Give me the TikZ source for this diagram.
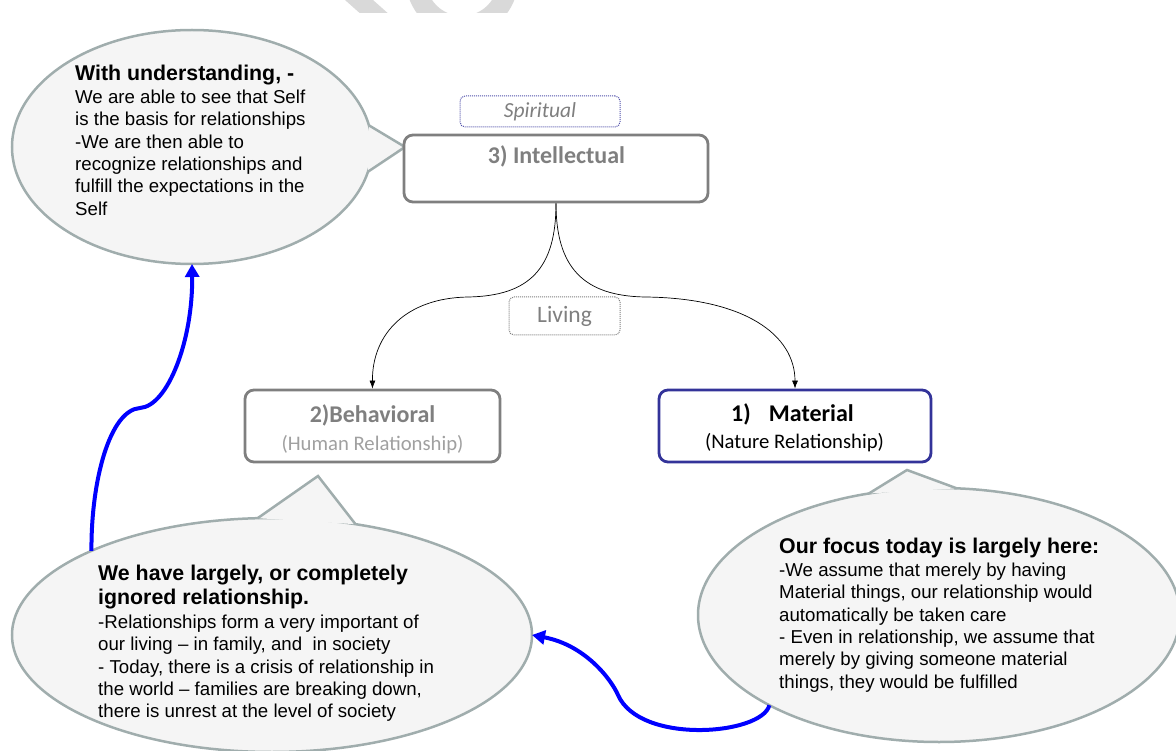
\documentclass[tikz,border=0pt]{standalone}
\usepackage{fontspec}
\setmainfont{Liberation Sans}
\newfontfamily\calibrifont{Carlito}
\usetikzlibrary{shapes.geometric,arrows.meta}

\definecolor{callfill}{RGB}{245,245,245}
\definecolor{callline}{RGB}{160,173,173}
\definecolor{boxgray}{RGB}{127,127,127}
\definecolor{softgray}{RGB}{160,160,160}
\definecolor{matblue}{RGB}{51,51,153}
\definecolor{dotblue}{RGB}{80,80,170}
\definecolor{wmgray}{RGB}{217,217,217}
\definecolor{flowblue}{RGB}{0,0,255}

\newcommand{\bodysize}{\fontsize{18.67pt}{22.4pt}\selectfont}
\newcommand{\headsize}{\fontsize{21.33pt}{25.6pt}\selectfont\bfseries}

\begin{document}
\begin{tikzpicture}[x=1pt,y=-1pt,
  callout/.style={ellipse, fill=callfill, draw=callline, line width=2.5pt, inner sep=0pt, outer sep=0pt},
  tail/.style={draw=callline, line width=2.5pt, line join=miter},
  boxnode/.style={rectangle, rounded corners=9pt, line width=2.8pt, fill=white, inner sep=0pt},
  tag/.style={rectangle, rounded corners=5pt, line width=1pt, densely dotted, inner sep=0pt},
  link/.style={draw=black, line width=0.7pt, -{Latex[length=8pt,width=6pt]}},
  flow/.style={draw=flowblue, line width=4pt, -{Triangle[length=13pt,width=14pt]}},
  calltext/.style={anchor=north west, inner sep=0pt, align=left},
  boxtitle/.style={anchor=base, inner sep=0pt, font=\calibrifont\fontsize{24pt}{28pt}\selectfont\bfseries},
  boxsub/.style={anchor=base, inner sep=0pt, font=\calibrifont\fontsize{20.7pt}{25pt}\selectfont}
]
\useasboundingbox (0,0) rectangle (1176,751);
\clip (0,0) rectangle (1176,751);

% faint logo fragment along the top edge
\begin{scope}
  \clip (300,0) rectangle (560,13);
  \fill[wmgray] (345,0) -- (373,0) -- (391,16) -- (363,16) -- cycle;
  \fill[wmgray, even odd rule] (462,-20) circle (56pt) (462,-20) circle (36pt);
\end{scope}

% speech bubbles
\node[callout, minimum width=360pt, minimum height=234pt] (tl) at (192,147) {};
\coordinate (tltip) at (405,147);
\fill[callfill] (tl.7.8) -- (tltip) -- (tl.-8.1) -- cycle;
\draw[tail] (tl.7.8) -- (tltip) -- (tl.-8.1);

\node[callout, minimum width=520pt, minimum height=234pt] (bl) at (272,635) {};
\coordinate (bltip) at (318,476);
\fill[callfill] (bl.97.8) -- (bltip) -- (bl.53.5) -- cycle;
\draw[tail] (bl.97.8) -- (bltip) -- (bl.53.5);

\node[callout, minimum width=482pt, minimum height=254pt] (br) at (939,615) {};
\coordinate (brtip) at (907,470);
\fill[callfill] (br.120.8) -- (brtip) -- (br.82.4) -- cycle;
\draw[tail] (br.120.8) -- (brtip) -- (br.82.4);

% blue flow arrows between the bubbles
\draw[flow] (bl.155.6) .. controls (91,480) and (110,410) .. (140,408)
            .. controls (168,406) and (193,340) .. (tl.south);
\draw[flow] (br.208.6) .. controls (762,735) and (640,745) .. (618,695)
            .. controls (611,679) and (585,645) .. (bl.east);

% level boxes
\node[tag, draw=dotblue, minimum width=160pt, minimum height=31pt] (spirit) at (540,111.5) {};
\node[boxnode, draw=boxgray, minimum width=304pt, minimum height=67pt] (intel) at (556,168.5) {};
\node[tag, draw=boxgray, minimum width=111pt, minimum height=38pt] (living) at (564.5,316) {};
\node[boxnode, draw=boxgray, minimum width=255pt, minimum height=72pt] (behav) at (372.5,426) {};
\node[boxnode, draw=matblue, minimum width=272pt, minimum height=72pt] (mater) at (795,426) {};

\draw[link] (intel.south) .. controls (556,268) and (530,296) .. (468,297)
            .. controls (405,298) and (372,335) .. (behav.north);
\draw[link] (intel.south) .. controls (556,268) and (584,296) .. (645,297)
            .. controls (745,298) and (795,335) .. (mater.north);

% box labels
\node[anchor=base, inner sep=0pt, text=boxgray, font=\calibrifont\itshape\fontsize{21.5pt}{26pt}\selectfont] (spirittxt) at (540,118) {Spiritual};
\node[boxtitle, text=boxgray] (inteltxt) at (556.5,163.5) {3) Intellectual};
\node[anchor=base, inner sep=0pt, text=boxgray, font=\calibrifont\fontsize{23.5pt}{28pt}\selectfont] (livingtxt) at (564.5,323) {Living};
\node[boxtitle, text=boxgray] (behavtxt) at (372.5,422.5) {2)Behavioral};
\node[boxsub, text=softgray] (behavsub) at (372.5,450.5) {(Human Relationship)};
\node[boxtitle, text=black] (matertxt) at (792.5,421.5) {1)\hspace{18pt}Material};
\node[boxsub, text=black] (matersub) at (794.5,448.5) {(Nature Relationship)};

% bubble texts
\node[calltext] (tltxt) at (75,65) {\bodysize\begin{tabular}{@{}l@{}}
{\headsize With understanding, -}\\
We are able to see that Self\\
is the basis for relationships\\
-We are then able to\\
recognize relationships and\\
fulfill the expectations in the\\
Self
\end{tabular}};

\node[calltext] (bltxt) at (98,565) {\bodysize\begin{tabular}{@{}l@{}}
{\headsize We have largely, or completely}\\[1.6pt]
{\headsize ignored relationship.}\\[1pt]
-Relationships form a very important of\\
our living -- in family, and \ in society\\
- Today, there is a crisis of relationship in\\
the world -- families are breaking down,\\
there is unrest at the level of society
\end{tabular}};

\node[calltext] (brtxt) at (779,538) {\bodysize\begin{tabular}{@{}l@{}}
{\headsize Our focus today is largely here:}\\
-We assume that merely by having\\
Material things, our relationship would\\
automatically be taken care\\
- Even in relationship, we assume that\\
merely by giving someone material\\
things, they would be fulfilled
\end{tabular}};
\end{tikzpicture}
\end{document}
